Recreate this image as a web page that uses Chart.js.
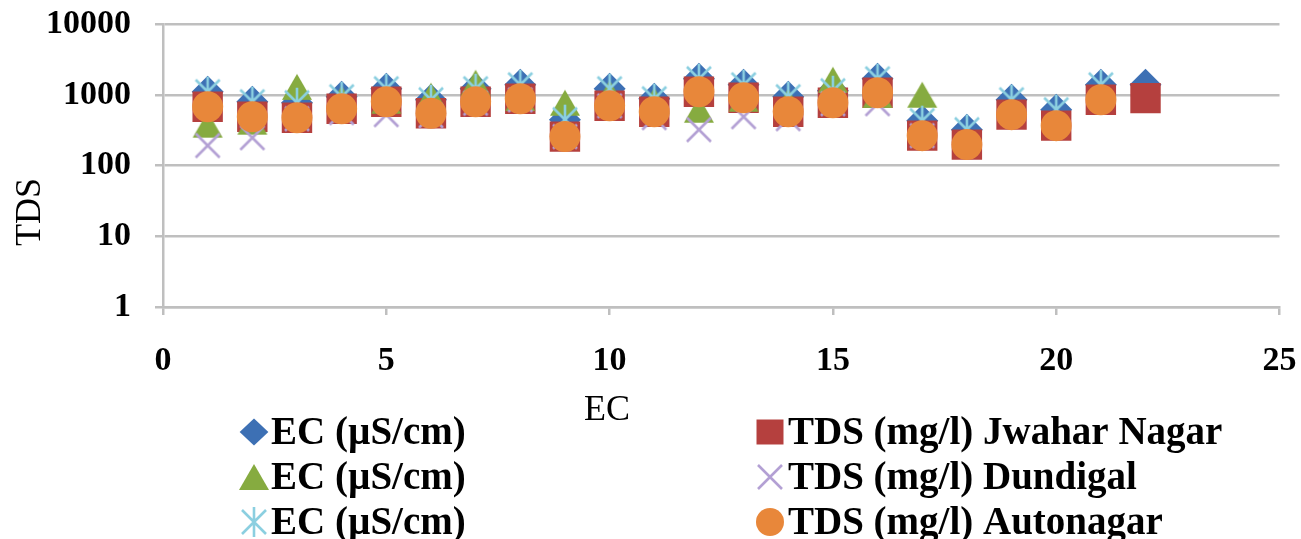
<!DOCTYPE html>
<html><head><meta charset="utf-8">
<script src="https://cdn.jsdelivr.net/npm/chart.js@4/dist/chart.umd.min.js"></script>
<style>html,body{margin:0;padding:0;background:#fff;overflow:hidden}#wrap{position:relative;width:1301px;height:539px}</style>
</head><body><div id="wrap"><canvas id="c" width="1301" height="539"></canvas></div>
<script>
// ---- data ----
const sampleNo = [1,2,3,4,5,6,7,8,9,10,11,12,13,14,15,16,17,18,19,20,21,22];
const ecJwahar   = [1108,800,775,942,1222,855,1222,1390,446,1222,883,1690,1390,942,1145,1690,432,322,855,617,1390,1390];
const tdsJwahar  = [680,491,476,638,800,551,800,883,257,703,578,1108,912,578,775,1072,265,198,525,367,855,900];
const ecDundigal = [379,418,1300,883,826,973,1486,900,775,1050,826,617,883,800,1637,1000,1005];
const tdsDundigal= [192,248,460,560,525,508,760,850,257,700,476,322,491,460,750,750,265];
const ecAuto     = [1108,800,775,942,1222,855,1222,1390,446,1222,883,1690,1390,942,1145,1690,432,322,855,617,1390];
const tdsAuto    = [680,491,476,638,800,551,800,883,257,703,578,1108,912,578,775,1072,265,198,525,367,855];
const yTicks = [1,10,100,1000,10000];
const xTicks = [0,5,10,15,20,25];
const seriesNames = ['EC (\u00b5S/cm)','TDS (mg/l) Jwahar Nagar','EC (\u00b5S/cm)','TDS (mg/l) Dundigal','EC (\u00b5S/cm)','TDS (mg/l) Autonagar'];

const C = {blue:'#3d70b4', red:'#b5403e', green:'#86ab40', purple:'#b3a0d4', cyan:'#8bcfe0', orange:'#e8873a'};

function mk(w,h,fn){const c=document.createElement('canvas');c.width=w;c.height=h;fn(c.getContext('2d'));return c;}
const triImg = mk(32,28,g=>{g.fillStyle=C.green;g.beginPath();g.moveTo(16,1);g.lineTo(31,27);g.lineTo(1,27);g.closePath();g.fill();});
const xImg = mk(28,28,g=>{g.strokeStyle=C.purple;g.lineWidth=2.6;g.beginPath();g.moveTo(2,2);g.lineTo(26,26);g.moveTo(26,2);g.lineTo(2,26);g.stroke();});
const starImg = mk(30,32,g=>{g.strokeStyle=C.cyan;g.lineWidth=2.6;g.beginPath();g.moveTo(3,4);g.lineTo(27,28);g.moveTo(27,4);g.lineTo(3,28);g.moveTo(15,1);g.lineTo(15,31);g.stroke();});

const pts = (arr)=>arr.map((v,i)=>({x:sampleNo[i],y:v}));
const styles = [
 {pointStyle:'rectRot', radius:16, color:C.blue},
 {pointStyle:'rect', radius:21.5, color:C.red},
 {pointStyle:triImg, radius:16, color:C.green},
 {pointStyle:xImg, radius:14, color:C.purple},
 {pointStyle:starImg, radius:15, color:C.cyan},
 {pointStyle:'circle', radius:15.5, color:C.orange}
];
const allData=[ecJwahar,tdsJwahar,ecDundigal,tdsDundigal,ecAuto,tdsAuto];
const datasets = allData.map((d,i)=>({
  label: seriesNames[i], data: pts(d), showLine:false,
  pointStyle: styles[i].pointStyle, pointRadius: styles[i].radius,
  pointBackgroundColor: styles[i].color, pointBorderColor: styles[i].color, pointBorderWidth:0,
  order: 5-i
}));

const serif = "'Liberation Serif','Times New Roman',serif";

function drawMarker(ctx, st, x, y){
  ctx.save();
  const s = st.pointStyle;
  if (typeof s === 'object'){ ctx.drawImage(s, x-s.width/2, y-s.height/2); ctx.restore(); return; }
  ctx.fillStyle = st.color; ctx.beginPath();
  const r = st.radius;
  if (s==='rectRot'){ ctx.moveTo(x,y-r*0.85); ctx.lineTo(x+r*0.9,y); ctx.lineTo(x,y+r*0.85); ctx.lineTo(x-r*0.9,y); ctx.closePath(); }
  else if (s==='rect'){ ctx.rect(x-13.5,y-12.5,27,25); }
  else if (s==='circle'){ ctx.arc(x,y,14,0,Math.PI*2); }
  ctx.fill(); ctx.restore();
}

const decor = {
  id:'decor',
  afterDraw(chart){
    const ctx = chart.ctx;
    ctx.save();
    ctx.fillStyle='#000';
    ctx.font = "36px "+serif;
    ctx.textAlign='center'; ctx.textBaseline='middle';
    ctx.fillText('EC', 607, 411);
    ctx.save(); ctx.translate(31,212); ctx.rotate(-Math.PI/2); ctx.fillText('TDS',0,0); ctx.restore();
    // legend
    ctx.font = "bold 39px "+serif;
    ctx.textAlign='left';
    const colX=[254,770], textX=[271,788], rowY=[432,477,522];
    for(let i=0;i<6;i++){
      const c=i%2, r=Math.floor(i/2);
      drawMarker(ctx, styles[i], colX[c], rowY[r]);
      ctx.fillStyle='#000';
      ctx.fillText(seriesNames[i], textX[c], rowY[r]+2);
    }
    ctx.restore();
  }
};

new Chart(document.getElementById('c'), {
  type:'scatter',
  data:{datasets},
  options:{
    responsive:false, devicePixelRatio:1, animation:false, events:[],
    layout:{padding:{top:0,right:0,left:0,bottom:0}},
    plugins:{legend:{display:false}, tooltip:{enabled:false}, title:{display:false}},
    scales:{
      x:{type:'linear', min:0, max:25,
        afterBuildTicks:s=>{s.ticks=xTicks.map(v=>({value:v}));},
        afterFit:s=>{s.height=232;},
        ticks:{color:'#000', font:{family:serif, size:34, weight:'bold', lineHeight:2.6}, padding:2, callback:v=>String(v), maxRotation:0, autoSkip:false},
        grid:{display:true, drawOnChartArea:false, drawTicks:true, tickLength:8, color:'#bfbfbf', lineWidth:2.5},
        border:{display:true, color:'#bfbfbf', width:2.5}
      },
      y:{type:'logarithmic', min:1, max:10000,
        afterBuildTicks:s=>{s.ticks=yTicks.map(v=>({value:v, major:true}));},
        afterFit:s=>{s.width=163;},
        ticks:{color:'#000', font:{family:serif, size:34, weight:'bold', lineHeight:0.01}, padding:24, callback:v=>String(v), autoSkip:false},
        grid:{display:true, drawTicks:true, tickLength:8, color:'#bfbfbf', lineWidth:2.5},
        border:{display:true, color:'#bfbfbf', width:2.5}
      }
    }
  },
  plugins:[decor]
});
</script></body></html>
